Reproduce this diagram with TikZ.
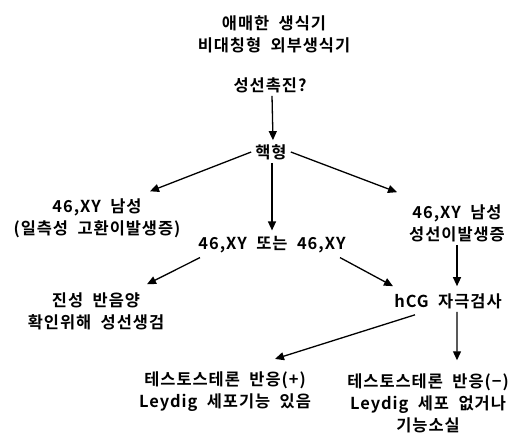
\documentclass[tikz,border=0pt]{standalone}
\usepackage{fontspec}
\newfontfamily\kr{Noto Sans CJK KR Bold}[LetterSpace=6,WordSpace=2]
\usetikzlibrary{arrows.meta}
\begin{document}
\begin{tikzpicture}[x=1bp,y=-1bp,
  lbl/.style={font=\kr\fontsize{16.5}{22}\selectfont, align=center, inner sep=1bp},
  arr/.style={line width=1.3bp, -{Triangle[length=9bp,width=8bp]}}]
\useasboundingbox (0,0) rectangle (524,443);
\node[lbl] (top) at (274,34) {애매한 생식기\\비대칭형 외부생식기};
\node[lbl] (q) at (270,85) {성선촉진?};
\node[lbl] (kt) at (271,152) {핵형};
\node[lbl] (l1) at (97,218) {46,XY 남성\\(일측성 고환이발생증)};
\node[lbl] (m) at (272,245) {46,XY 또는 46,XY};
\node[lbl] (r1) at (457,223) {46,XY 남성\\성선이발생증};
\node[lbl] (l2) at (96,311) {진성 반음양\\확인위해 성선생검};
\node[lbl] (h) at (448,301) {hCG 자극검사};
\node[lbl] (b1) at (225,392) {테스토스테론 반응(+)\\Leydig 세포기능 있음};
\node[lbl] (b2) at (428,403) {테스토스테론 반응(−)\\Leydig 세포 없거나\\기능소실};
\draw[arr] ([xshift=2bp,yshift=-2bp]q.south) -- ([xshift=2bp,yshift=3bp]kt.north);
\draw[arr] ([xshift=-3bp]kt.west) -- ([xshift=53bp,yshift=6bp]l1.north);
\draw[arr] ([xshift=1bp,yshift=-2bp]kt.south) -- ([yshift=5bp]m.north);
\draw[arr] ([xshift=3bp]kt.east) -- ([xshift=-60bp,yshift=11bp]r1.north);
\draw[arr] ([xshift=-72bp,yshift=-3bp]m.south) -- ([xshift=51bp,yshift=7bp]l2.north);
\draw[arr] ([xshift=68bp,yshift=-3bp]m.south) -- ([xshift=-55bp,yshift=6bp]h.north);
\draw[arr] ([yshift=-2bp]r1.south) -- ([yshift=6bp]r1.south |- h.north);
\draw[arr] ([xshift=-33bp,yshift=-5bp]h.south) -- ([xshift=50bp,yshift=12bp]b1.north);
\draw[arr] ([xshift=9bp,yshift=-2bp]h.south) -- ([xshift=29bp,yshift=12bp]b2.north);
\end{tikzpicture}
\end{document}
